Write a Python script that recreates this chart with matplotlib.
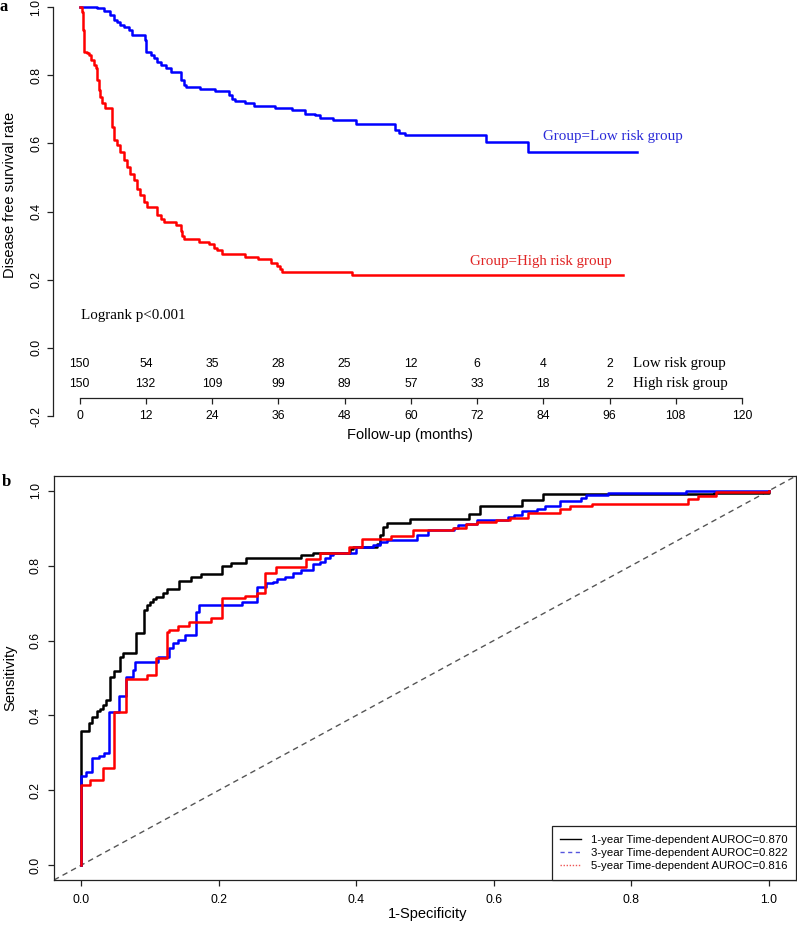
import numpy as np
import matplotlib
matplotlib.use("Agg")
import matplotlib.pyplot as plt
from matplotlib.lines import Line2D

plt.rcParams['font.family'] = ['Liberation Sans', 'DejaVu Sans']

# ---- panel a: Kaplan-Meier data (months, survival) ----
low_t = [0, 3.2, 4.4, 5.6, 6.2, 6.8, 7.4, 8.0, 8.9, 9.5, 11.8, 12.1, 12.9, 13.5, 14.1,
         14.7, 15.6, 16.5, 18.3, 18.9, 19.2, 21.9, 24.6, 27.0, 27.6, 28.2, 30.0, 31.6,
         35.5, 38.5, 40.9, 42.7, 43.6, 46.0, 50.0, 57.2, 57.8, 59.0, 73.7, 81.3, 100.9]
low_s = [1.0, 0.996, 0.988, 0.976, 0.962, 0.957, 0.947, 0.942, 0.932, 0.918, 0.903, 0.869,
         0.859, 0.849, 0.839, 0.829, 0.820, 0.810, 0.785, 0.771, 0.766, 0.758, 0.754, 0.741,
         0.731, 0.724, 0.717, 0.709, 0.705, 0.697, 0.687, 0.682, 0.674, 0.668, 0.658, 0.638,
         0.631, 0.625, 0.604, 0.576, 0.576]

high_t = [0, 0.5, 0.66, 0.9, 1.27, 1.7, 2.1, 2.6, 2.9, 3.2, 3.5, 3.8, 4.1, 4.7, 5.9, 6.2,
          6.8, 7.4, 8.0, 8.6, 9.2, 9.8, 10.4, 11.0, 11.6, 12.2, 14.1, 14.7, 15.3, 17.4,
          18.3, 18.6, 18.9, 21.6, 23.4, 24.3, 24.9, 25.8, 30.0, 32.3, 34.6, 35.8, 36.4,
          36.7, 49.4, 98.5]
high_s = [1.0, 0.986, 0.932, 0.869, 0.864, 0.859, 0.844, 0.829, 0.820, 0.785, 0.756, 0.736,
          0.717, 0.705, 0.648, 0.609, 0.594, 0.575, 0.550, 0.530, 0.511, 0.491, 0.467,
          0.447, 0.427, 0.413, 0.390, 0.378, 0.369, 0.359, 0.344, 0.329, 0.319, 0.311,
          0.304, 0.294, 0.286, 0.275, 0.267, 0.260, 0.250, 0.240, 0.230, 0.223, 0.214, 0.214]

risk_times = [0, 12, 24, 36, 48, 60, 72, 84, 96]
risk_low = [150, 54, 35, 28, 25, 12, 6, 4, 2]
risk_high = [150, 132, 109, 99, 89, 57, 33, 18, 2]

# ---- panel b: time-dependent ROC data ----
fpr1 = [0, 0, 0.011, 0.016, 0.022, 0.027, 0.032, 0.036, 0.042, 0.047, 0.056, 0.061, 0.080,
        0.091, 0.095, 0.100, 0.104, 0.109, 0.119, 0.124, 0.142, 0.160, 0.174, 0.205, 0.217,
        0.240, 0.320, 0.337, 0.391, 0.395, 0.430, 0.434, 0.439, 0.444, 0.478, 0.564, 0.580,
        0.641, 0.672, 0.920, 1.0]
tpr1 = [0, 0.357, 0.379, 0.397, 0.411, 0.417, 0.428, 0.442, 0.504, 0.520, 0.557, 0.568,
        0.620, 0.682, 0.695, 0.704, 0.710, 0.717, 0.726, 0.738, 0.760, 0.771, 0.778, 0.799,
        0.808, 0.822, 0.829, 0.833, 0.846, 0.851, 0.858, 0.882, 0.904, 0.915, 0.926, 0.938,
        0.959, 0.977, 0.991, 0.995, 1.0]

fpr3 = [0, 0, 0.006, 0.016, 0.026, 0.033, 0.040, 0.055, 0.065, 0.075, 0.078, 0.112, 0.128,
        0.133, 0.141, 0.150, 0.166, 0.171, 0.233, 0.256, 0.269, 0.279, 0.284, 0.296, 0.308,
        0.320, 0.337, 0.347, 0.354, 0.361, 0.366, 0.400, 0.415, 0.425, 0.434, 0.444, 0.488,
        0.505, 0.542, 0.548, 0.560, 0.575, 0.621, 0.629, 0.641, 0.663, 0.674, 0.696, 0.727,
        0.735, 0.767, 0.880, 1.0]
tpr3 = [0, 0.237, 0.248, 0.286, 0.291, 0.300, 0.409, 0.451, 0.502, 0.522, 0.544, 0.557,
        0.580, 0.593, 0.602, 0.615, 0.677, 0.695, 0.702, 0.744, 0.753, 0.757, 0.764, 0.771,
        0.781, 0.788, 0.804, 0.811, 0.820, 0.828, 0.833, 0.849, 0.851, 0.855, 0.864, 0.868,
        0.882, 0.895, 0.902, 0.908, 0.913, 0.922, 0.931, 0.937, 0.947, 0.953, 0.959, 0.973,
        0.982, 0.988, 0.995, 1.0, 1.0]

fpr5 = [0, 0, 0.013, 0.031, 0.047, 0.065, 0.095, 0.109, 0.125, 0.128, 0.141, 0.157, 0.189,
        0.204, 0.238, 0.255, 0.267, 0.283, 0.327, 0.347, 0.390, 0.408, 0.451, 0.483, 0.541,
        0.560, 0.575, 0.604, 0.624, 0.650, 0.697, 0.711, 0.743, 0.883, 0.898, 0.924, 1.0]
tpr5 = [0, 0.215, 0.228, 0.259, 0.409, 0.497, 0.508, 0.553, 0.624, 0.629, 0.638, 0.651,
        0.660, 0.713, 0.719, 0.726, 0.780, 0.796, 0.817, 0.833, 0.851, 0.871, 0.879, 0.895,
        0.900, 0.913, 0.917, 0.922, 0.928, 0.940, 0.953, 0.959, 0.966, 0.979, 0.986, 0.997, 1.0]

auc_labels = ['1-year Time-dependent AUROC=0.870',
              '3-year Time-dependent AUROC=0.822',
              '5-year Time-dependent AUROC=0.816']

W, H = 797, 930
fig = plt.figure(figsize=(W / 100, H / 100), dpi=100)
serif = ['Liberation Serif', 'DejaVu Serif']

# ================= panel a =================
ax1 = fig.add_axes([53 / W, 1 - 416 / H, (768.5 - 53) / W, 416 / H])
ax1.step(low_t, low_s, where='post', color='#0000ff', lw=1.8)
ax1.step(high_t, high_s, where='post', color='#ff0000', lw=1.8)
ax1.set_xlim(-4.8, 124.8)
ax1.set_ylim(-0.2, 1.0206)
ax1.spines['top'].set_visible(False)
ax1.spines['right'].set_visible(False)
ax1.spines['left'].set_bounds(-0.2, 1.0)
ax1.spines['bottom'].set_position(('data', -0.147))
ax1.spines['bottom'].set_bounds(0, 120)
for s in ax1.spines.values():
    s.set_linewidth(0.9)
    s.set_color('#222222')
ax1.set_xticks(range(0, 121, 12))
ax1.set_yticks([-0.2, 0.0, 0.2, 0.4, 0.6, 0.8, 1.0])
ax1.set_yticklabels(['%.1f' % v for v in [-0.2, 0.0, 0.2, 0.4, 0.6, 0.8, 1.0]],
                    rotation=90, va='center')
ax1.tick_params(axis='both', direction='out', length=4.3, width=0.9, labelsize=8.8,
                color='#222222')
ax1.tick_params(axis='x', pad=4.5)
ax1.tick_params(axis='y', pad=3.5)

for t, a, b in zip(risk_times, risk_low, risk_high):
    ax1.text(t, -0.047, str(a), ha='center', va='center', fontsize=8.8)
    ax1.text(t, -0.106, str(b), ha='center', va='center', fontsize=8.8)
ax1.text(100.3, -0.045, 'Low risk group', family=serif, fontsize=10.8, va='center')
ax1.text(100.3, -0.105, 'High risk group', family=serif, fontsize=10.8, va='center')
ax1.text(0.2, 0.094, 'Logrank p<0.001', family=serif, fontsize=10.8, va='center')
ax1.text(84, 0.62, 'Group=Low risk group', family=serif, fontsize=10.8, va='center',
         color='#2a2ad8')
ax1.text(70.8, 0.253, 'Group=High risk group', family=serif, fontsize=10.8, va='center',
         color='#e02424')

fig.text(10 / W, 1 - 195 / H, 'Disease free survival rate', rotation=90,
         ha='center', va='center', fontsize=10.5)
fig.text(410 / W, 1 - 435 / H, 'Follow-up (months)', ha='center', va='center',
         fontsize=10.5)
fig.text(4 / W, 1 - 7 / H, 'a', family=serif, fontweight='bold', fontsize=12,
         ha='center', va='center')

# ================= panel b =================
ax2 = fig.add_axes([54 / W, 1 - 880 / H, (796 - 54) / W, (880 - 476) / H])
ax2.axline((0, 0), (1, 1), color='#555555', lw=1.0, ls=(0, (4, 3)))
ax2.step(fpr1, tpr1, where='post', color='black', lw=1.8)
ax2.step(fpr3, tpr3, where='post', color='#0000ff', lw=1.8)
ax2.step(fpr5, tpr5, where='post', color='#ff0000', lw=1.8)
ax2.set_xlim(-0.04, 1.04)
ax2.set_ylim(-0.04, 1.04)
ticks = [0.0, 0.2, 0.4, 0.6, 0.8, 1.0]
ax2.set_xticks(ticks)
ax2.set_yticks(ticks)
ax2.set_xticklabels(['%.1f' % v for v in ticks])
ax2.set_yticklabels(['%.1f' % v for v in ticks], rotation=90, va='center')
for s in ax2.spines.values():
    s.set_linewidth(0.9)
    s.set_color('#222222')
ax2.tick_params(axis='both', direction='out', length=4.3, width=0.9, labelsize=8.8,
                color='#222222')
ax2.tick_params(axis='x', pad=6)
ax2.tick_params(axis='y', pad=4.5)

handles = [Line2D([], [], color='black', lw=1.0, ls='-'),
           Line2D([], [], color='#5555dd', lw=1.0, ls=(0, (3, 2.5))),
           Line2D([], [], color='#ee5555', lw=1.0, ls=(0, (1, 1.2)))]
leg = ax2.legend(handles, auc_labels, loc='lower right', bbox_to_anchor=(1, 0),
                 borderaxespad=0, fontsize=8.2, frameon=True, fancybox=False,
                 edgecolor='#222222', framealpha=1, handlelength=1.8,
                 labelspacing=0.3, borderpad=0.75, handletextpad=0.9)
leg.get_frame().set_linewidth(0.9)

fig.text(10 / W, 1 - 678 / H, 'Sensitivity', rotation=90, ha='center', va='center',
         fontsize=10.5)
fig.text(428 / W, 1 - 914 / H, '1-Specificity', ha='center', va='center', fontsize=10.5)
fig.text(6 / W, 1 - 482 / H, 'b', family=serif, fontweight='bold', fontsize=12,
         ha='center', va='center')

fig.savefig('out.png', dpi=100)
